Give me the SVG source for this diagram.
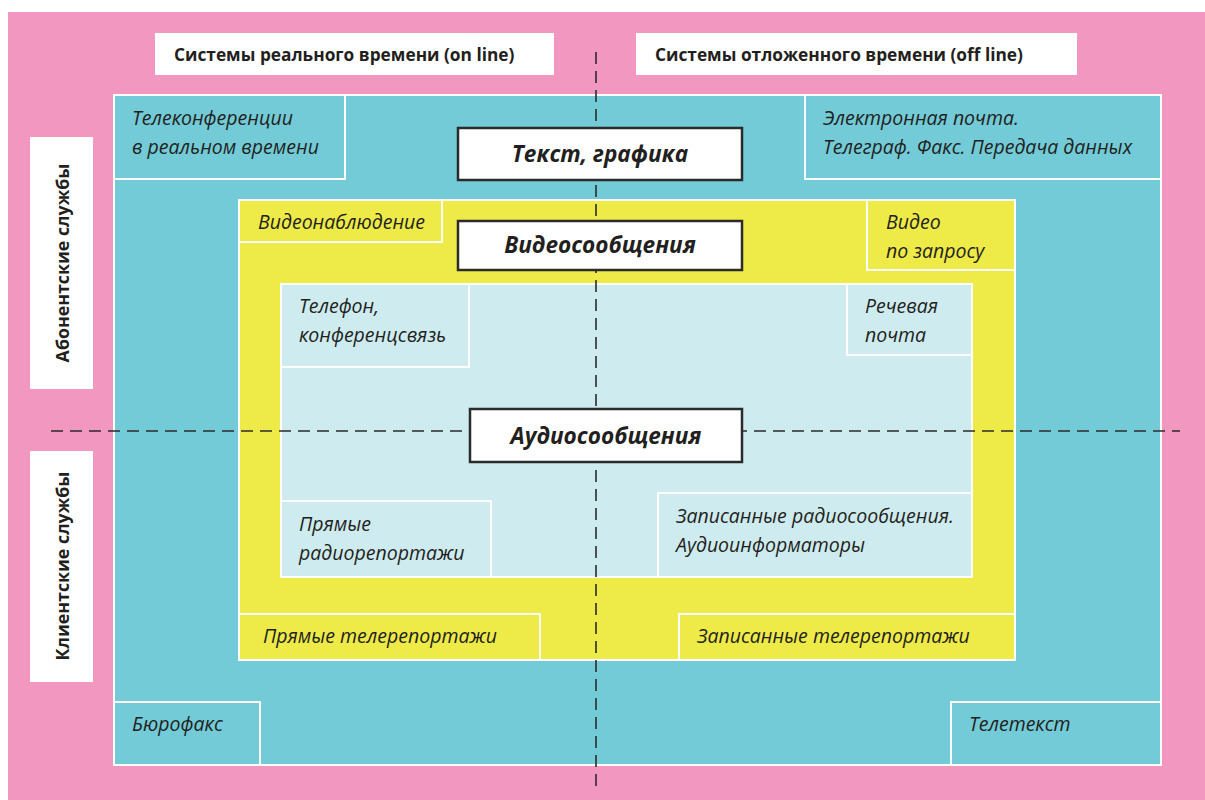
<svg xmlns="http://www.w3.org/2000/svg" width="1205" height="800" viewBox="0 0 1205 800">
<style>
.bg{fill:#F297C0}
.teal{fill:#72CBD7;stroke:#fff;stroke-width:2}
.yel{fill:#EEEA48;stroke:#fff;stroke-width:2}
.lb{fill:#CEEBEF;stroke:#fff;stroke-width:2}
.wl{fill:#fff}
.cb{fill:#fff;stroke:#2b2b2b;stroke-width:2.5}
.t{font-family:"Open Sans","Noto Sans","Liberation Sans",sans-serif;font-style:italic;font-size:19.5px;fill:#231F20}
.h{font-family:"Open Sans","Noto Sans","Liberation Sans",sans-serif;font-weight:bold;font-size:17.3px;fill:#231F20}
.v{font-family:"Open Sans","Noto Sans","Liberation Sans",sans-serif;font-weight:bold;font-size:17.8px;fill:#231F20;text-anchor:middle}
.c{font-family:"Open Sans","Noto Sans","Liberation Sans",sans-serif;font-weight:bold;font-style:italic;font-size:22.6px;fill:#231F20;text-anchor:middle}
.d{fill:none;stroke:#2b2b2b;stroke-width:1.6;stroke-dasharray:12 7}
</style>
<rect class="bg" x="8" y="12" width="1197" height="788"/>

<g id="label-online"><rect class="wl" x="155" y="33" width="399" height="42"/><text class="h" x="174" y="61">Системы реального времени (on line)</text></g>
<g id="label-offline"><rect class="wl" x="636" y="33" width="441" height="42"/><text class="h" x="655" y="61">Системы отложенного времени (off line)</text></g>
<g id="label-subscriber"><rect class="wl" x="30" y="137" width="63" height="252"/><text class="v" transform="translate(69 263) rotate(-90)">Абонентские службы</text></g>
<g id="label-client"><rect class="wl" x="30" y="451" width="63" height="231"/><text class="v" transform="translate(69 566) rotate(-90)">Клиентские службы</text></g>

<g id="region-text"><rect class="teal" x="114" y="95" width="1047" height="670"/></g>
<g id="teleconf"><rect class="teal" x="114" y="95" width="231" height="84"/><text class="t" x="132" y="125">Телеконференции</text><text class="t" x="132" y="154">в реальном времени</text></g>
<g id="email"><rect class="teal" x="805" y="95" width="356" height="84"/><text class="t" x="823" y="125">Электронная почта.</text><text class="t" x="823" y="154">Телеграф. Факс. Передача данных</text></g>
<g id="burofax"><rect class="teal" x="114" y="702" width="146" height="63"/><text class="t" x="132" y="731">Бюрофакс</text></g>
<g id="teletext"><rect class="teal" x="951" y="702" width="210" height="63"/><text class="t" x="969" y="731">Телетекст</text></g>

<g id="region-video"><rect class="yel" x="239" y="200" width="776" height="460"/></g>
<g id="videosurv"><rect class="yel" x="239" y="200" width="203" height="42"/><text class="t" x="258" y="229">Видеонаблюдение</text></g>
<g id="vod"><rect class="yel" x="867" y="200" width="148" height="70"/><text class="t" x="886" y="229">Видео</text><text class="t" x="886" y="258">по запросу</text></g>
<g id="livetv"><rect class="yel" x="239" y="614" width="301" height="46"/><text class="t" x="263" y="643">Прямые телерепортажи</text></g>
<g id="rectv"><rect class="yel" x="679" y="614" width="336" height="46"/><text class="t" x="697" y="643">Записанные телерепортажи</text></g>

<g id="region-audio"><rect class="lb" x="281" y="284" width="691" height="293"/></g>
<g id="phone"><rect class="lb" x="281" y="284" width="188" height="83"/><text class="t" x="299" y="313">Телефон,</text><text class="t" x="299" y="342">конференцсвязь</text></g>
<g id="voicemail"><rect class="lb" x="847" y="284" width="125" height="71"/><text class="t" x="865" y="313">Речевая</text><text class="t" x="865" y="342">почта</text></g>
<g id="liveradio"><rect class="lb" x="281" y="501" width="210" height="76"/><text class="t" x="299" y="531">Прямые</text><text class="t" x="299" y="560">радиорепортажи</text></g>
<g id="recradio"><rect class="lb" x="658" y="493" width="314" height="84"/><text class="t" x="676" y="523">Записанные радиосообщения.</text><text class="t" x="676" y="552">Аудиоинформаторы</text></g>

<g id="connectors">
<line class="d" x1="596" y1="52" x2="596" y2="787"/>
<line class="d" x1="51" y1="431" x2="1180" y2="431"/>
</g>

<g id="hdr-text"><rect class="cb" x="458" y="128" width="284" height="52"/><text class="c" x="600" y="162">Текст, графика</text></g>
<g id="hdr-video"><rect class="cb" x="458" y="221" width="284" height="49"/><text class="c" x="600" y="253">Видеосообщения</text></g>
<g id="hdr-audio"><rect class="cb" x="470" y="409" width="272" height="53"/><text class="c" x="606" y="444">Аудиосообщения</text></g>
</svg>
